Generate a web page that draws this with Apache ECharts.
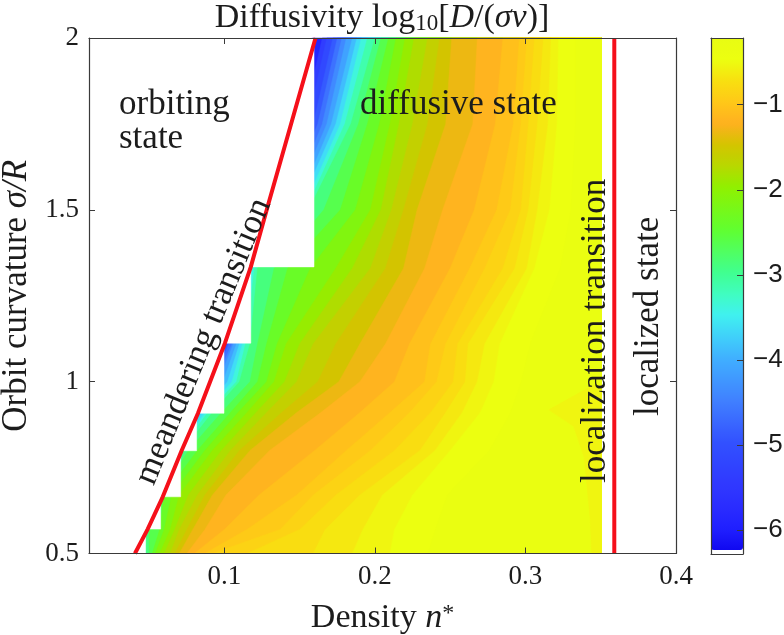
<!DOCTYPE html>
<html>
<head>
<meta charset="utf-8">
<style>html,body{margin:0;padding:0;background:#fff}#chart{width:784px;height:635px}</style>
<script src="https://cdn.jsdelivr.net/npm/echarts@6/dist/echarts.min.js"></script>
</head>
<body>
<div id="chart"></div>
<script>
const xTicks = [0.1, 0.2, 0.3, 0.4];
const yTicks = [0.5, 1, 1.5, 2];
const barTicks = [-6, -5, -4, -3, -2, -1];

// curvature rows, and where each level of log10 D crosses that row (density)
const rows = [2, 1.75, 1.5, 1.33, 1.11, 1, 0.91, 0.8, 0.67, 0.57, 0.5];
const levels = [-5.5, -5.25, -5, -4.75, -4.5, -4.25, -4, -3.75, -3.5, -3.25, -3, -2.75, -2.5, -2.25, -2, -1.85, -1.7, -1.55, -1.4, -1.25, -1.1, -1, -0.9, -0.8, -0.7, -0.6, -0.5, -0.4];
const crossings = [
	[.165, .152, .131, .100, .098, .088, .077, .064, .050, .040, .034],
	[.168, .155, .134, .102, .100, .089, .077, .064, .051, .041, .034],
	[.172, .159, .137, .105, .102, .091, .078, .065, .052, .042, .035],
	[.175, .162, .139, .107, .103, .092, .079, .065, .052, .042, .036],
	[.178, .165, .142, .109, .105, .094, .080, .066, .053, .043, .037],
	[.181, .168, .144, .111, .106, .096, .081, .067, .053, .044, .037],
	[.185, .171, .147, .113, .108, .099, .083, .068, .054, .044, .038],
	[.188, .174, .149, .116, .110, .102, .085, .068, .055, .045, .041],
	[.191, .177, .152, .118, .112, .105, .087, .069, .056, .046, .044],
	[.195, .180, .154, .120, .114, .108, .089, .070, .056, .047, .046],
	[.200, .184, .156, .122, .117, .110, .092, .072, .057, .048, .048],
	[.204, .189, .166, .133, .122, .117, .098, .076, .058, .050, .050],
	[.209, .195, .177, .142, .128, .122, .104, .082, .060, .057, .052],
	[.214, .203, .187, .157, .135, .128, .109, .087, .065, .060, .054],
	[.220, .210, .197, .174, .141, .133, .115, .092, .070, .064, .057],
	[.226, .216, .204, .185, .150, .140, .121, .098, .076, .067, .060],
	[.235, .225, .211, .197, .159, .148, .128, .104, .082, .070, .064],
	[.243, .235, .219, .207, .174, .162, .138, .110, .087, .075, .067],
	[.251, .247, .228, .219, .190, .176, .148, .117, .092, .079, .070],
	[.268, .265, .245, .233, .207, .190, .164, .130, .101, .087, .075],
	[.285, .280, .266, .250, .223, .213, .190, .160, .123, .100, .080],
	[.296, .292, .281, .263, .237, .233, .210, .181, .148, .115, .087],
	[.301, .297, .290, .273, .247, .241, .223, .197, .159, .137, .092],
	[.306, .302, .297, .285, .255, .252, .237, .213, .174, .150, .115],
	[.312, .308, .302, .293, .262, .260, .247, .230, .190, .167, .159],
	[.317, .315, .308, .301, .273, .268, .258, .240, .205, .192, .185],
	[.322, .321, .316, .306, .283, .279, .270, .250, .225, .213, .210],
	[.333, .333, .330, .323, .303, .297, .290, .276, .248, .240, .235]
];
// left of the lowest level, tucked under the white steps
const lowestCrossing = [.158, .148, .128, .098, .095, .085, .075, .062, .048, .038, .032];
const lowestLevel = -6.2;
const edgeDensity = 0.3505;

// slightly darker rim just before localization
const rimDensity = [.3155, .3450, .3505, .3505, .3440, .3430, .3390, .3320];
const rimCurvature = [.918, .990, .990, .500, .500, .600, .780, .870];
const rimValue = -0.55;

// no diffusion data left of these steps
const stepDensity = [.1595, .1175, .0997, .0815, .0709, .0576, .0476];
const stepCurvature = [2, 1.334, 1.112, .908, .799, .665, .571, .5];

const meanderDensity = [.1605, .130, .1175, .1003, .0824, .0715, .059, .049, .0405];
const meanderCurvature = [2, 1.53, 1.334, 1.112, .908, .799, .665, .571, .5];
const localizationDensity = [.359, .359];
const localizationCurvature = [.5, 2];

// evenly spaced along the colour bar, bottom to top
const barMin = -6.235;
const barMax = -0.216;
const barColors = ['#1008f0', '#2020ff', '#2a2cff', '#3038ff', '#3044ff', '#3250ff', '#3a68ff', '#4080ff', '#4098ff', '#40b0ff', '#40d0fa', '#40f0f0', '#40fdc0', '#40ff90', '#50ff60', '#60ff30', '#78f818', '#90f000', '#b8d800', '#d4c400', '#ffb020', '#ffc818', '#f8e010', '#ecff10', '#e8fc12'];

const INK = '#3a3a3a';
const TEXT = '#1c1c1c';
const SERIF = '"Liberation Serif"';

function bandPolygon(i) {
	const pts = [];
	const line = i < 0 ? lowestCrossing : crossings[i];
	rows.forEach((y, k) => pts.push([line[k], y]));
	pts.push([edgeDensity, 0.5], [edgeDensity, 2]);
	return pts;
}

const polygons = [];
const bandData = [];
for (let i = -1; i < levels.length; i++) {
	polygons.push(bandPolygon(i));
	const lo = i < 0 ? lowestLevel : levels[i];
	const hi = i + 1 < levels.length ? levels[i + 1] : -0.3;
	bandData.push([(lo + hi) / 2]);
}
polygons.push(rimDensity.map((x, k) => [x, rimCurvature[k]]));
bandData.push([rimValue]);

function maskPolygon() {
	const pts = [[0.01, 2]];
	stepDensity.forEach((x, k) => {
		pts.push([x, stepCurvature[k]], [x, stepCurvature[k + 1]]);
	});
	pts.push([0.01, 0.5]);
	return pts;
}

function polyItem(pts, api, fill) {
	return {
		type: 'polygon',
		shape: { points: pts.map(p => api.coord(p)) },
		style: { fill: fill, stroke: fill, lineWidth: 0.5 }
	};
}

function frameAxis(grid, position, extra) {
	return Object.assign({
		type: 'value',
		gridIndex: grid,
		position: position,
		z: 8,
		splitLine: { show: false },
		axisLine: { show: true, onZero: false, lineStyle: { color: INK, width: 1.2 } },
		axisTick: { show: false },
		axisLabel: { show: false }
	}, extra);
}

const tick = (values) => ({ show: true, inside: true, length: 6, customValues: values, lineStyle: { color: INK, width: 1 } });
const tickLabel = (values, formatter) => ({
	show: true, customValues: values, formatter: formatter, margin: 10,
	fontFamily: SERIF, fontSize: 27, color: TEXT
});

function annotation(text, x, y, angle) {
	return {
		type: 'text', x: x, y: y, z: 20,
		rotation: (angle || 0) * Math.PI / 180,
		style: { text: text, font: '35px ' + SERIF, fill: TEXT, verticalAlign: 'middle' }
	};
}

const option = {
	animation: false,
	backgroundColor: '#fff',
	title: {
		left: 377, top: -4, textAlign: 'center',
		text: 'Diffusivity log{sub|10}[{i|D}/({i|σv})]',
		textStyle: {
			fontFamily: SERIF, fontSize: 34, fontWeight: 'normal', color: TEXT, lineHeight: 34,
			rich: {
				sub: { fontFamily: SERIF, fontSize: 23, color: TEXT, verticalAlign: 'bottom', lineHeight: 30 },
				i: { fontFamily: SERIF, fontSize: 34, fontStyle: 'italic', color: TEXT }
			}
		}
	},
	grid: [
		{ left: 89, top: 38, width: 587, height: 515.5, outerBoundsMode: 'none' },
		{ left: 711, top: 38, width: 32, height: 516, outerBoundsMode: 'none' }
	],
	xAxis: [
		frameAxis(0, 'bottom', {
			min: 0.01, max: 0.4,
			axisTick: tick(xTicks),
			axisLabel: tickLabel(xTicks, v => v.toFixed(1)),
			name: '{a|Density }{i|n}{s|*}', nameLocation: 'middle', nameGap: 48,
			nameTextStyle: {
				rich: {
					a: { fontFamily: SERIF, fontSize: 34, color: TEXT },
					i: { fontFamily: SERIF, fontSize: 34, fontStyle: 'italic', color: TEXT },
					s: { fontFamily: SERIF, fontSize: 24, color: TEXT, verticalAlign: 'top' }
				}
			}
		}),
		frameAxis(0, 'top', { min: 0.01, max: 0.4, axisTick: tick(xTicks) }),
		frameAxis(1, 'bottom', { min: 0, max: 1 }),
		frameAxis(1, 'top', { min: 0, max: 1 })
	],
	yAxis: [
		frameAxis(0, 'left', {
			min: 0.5, max: 2,
			axisTick: tick(yTicks),
			axisLabel: tickLabel(yTicks),
			name: '{a|Orbit curvature }{i|σ/R}', nameLocation: 'middle', nameGap: 55,
			nameTextStyle: {
				rich: {
					a: { fontFamily: SERIF, fontSize: 35, color: TEXT },
					i: { fontFamily: SERIF, fontSize: 35, fontStyle: 'italic', color: TEXT }
				}
			}
		}),
		frameAxis(0, 'right', { min: 0.5, max: 2, axisTick: tick(yTicks) }),
		frameAxis(1, 'left', { min: -6.28, max: -0.216 }),
		frameAxis(1, 'right', {
			min: -6.28, max: -0.216,
			axisTick: tick(barTicks),
			axisLabel: {
				show: true, customValues: barTicks, margin: 10,
				formatter: v => '\u2212' + Math.abs(v),
				fontFamily: '"Liberation Sans"', fontSize: 26, color: TEXT
			}
		})
	],
	visualMap: {
		type: 'continuous',
		seriesIndex: 0,
		dimension: 0,
		min: barMin,
		max: barMax,
		calculable: false,
		realtime: false,
		left: 711, top: 38,
		padding: 0,
		itemWidth: 32,
		itemHeight: 512,
		text: ['', ''],
		textGap: 0,
		inRange: { color: barColors }
	},
	graphic: [
		annotation('orbiting', 119, 105),
		annotation('state', 119, 139),
		annotation('diffusive state', 360, 105),
		annotation('meandering transition', 145, 483, 67.5),
		annotation('localization transition', 596, 483, 90),
		annotation('localized state', 649, 416, 90)
	],
	series: [
		{
			type: 'custom',
			coordinateSystem: 'cartesian2d',
			xAxisIndex: 0, yAxisIndex: 0,
			silent: true,
			z: 2,
			data: bandData,
			renderItem: (params, api) => polyItem(polygons[params.dataIndex], api, api.visual('color'))
		},
		{
			type: 'custom',
			coordinateSystem: 'cartesian2d',
			xAxisIndex: 0, yAxisIndex: 0,
			silent: true,
			z: 3,
			data: [[0]],
			renderItem: (params, api) => polyItem(maskPolygon(), api, '#fff')
		},
		{
			type: 'line',
			xAxisIndex: 0, yAxisIndex: 0,
			data: meanderDensity.map((x, k) => [x, meanderCurvature[k]]),
			symbol: 'none',
			silent: true,
			z: 4,
			lineStyle: { color: '#f5101a', width: 4 }
		},
		{
			type: 'line',
			xAxisIndex: 0, yAxisIndex: 0,
			data: localizationDensity.map((x, k) => [x, localizationCurvature[k]]),
			symbol: 'none',
			silent: true,
			z: 4,
			lineStyle: { color: '#f5101a', width: 4 }
		}
	]
};

const chart = echarts.init(document.getElementById('chart'));
chart.setOption(option);
</script>
</body>
</html>
